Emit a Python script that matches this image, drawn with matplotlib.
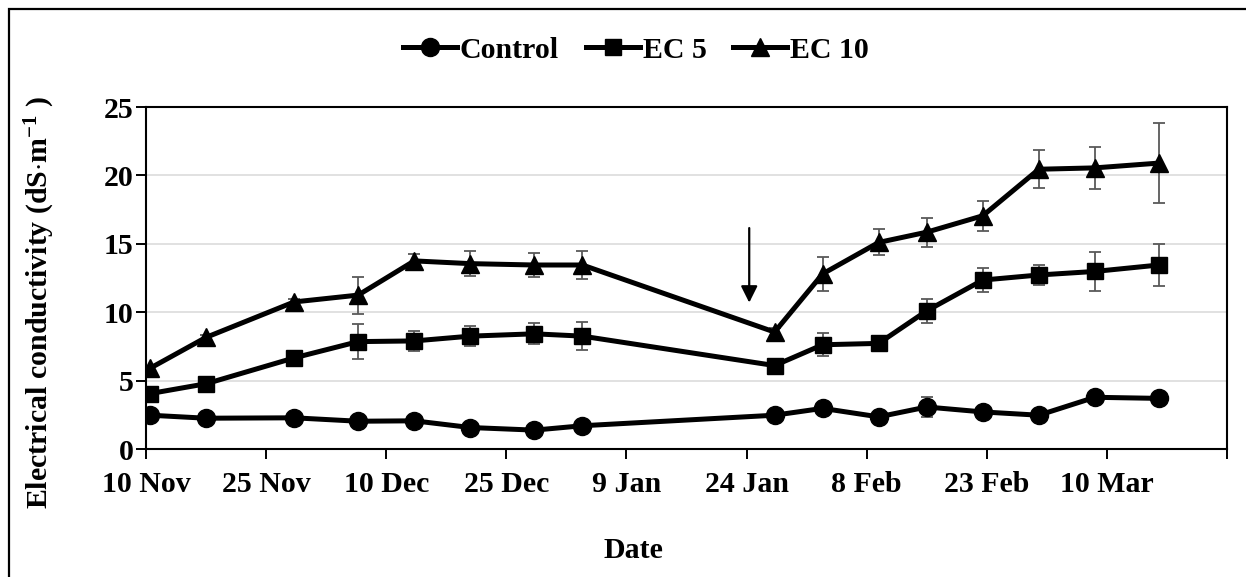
import numpy as np
import pandas as pd
import matplotlib
matplotlib.use("Agg")
import matplotlib.pyplot as plt
from matplotlib.patches import Rectangle

# ---------------------------------------------------------------
# Data
# ---------------------------------------------------------------
sample_dates = ["2018-11-10", "2018-11-17", "2018-11-28", "2018-12-06",
                "2018-12-13", "2018-12-20", "2018-12-28", "2019-01-03",
                "2019-01-27", "2019-02-02", "2019-02-09", "2019-02-15",
                "2019-02-22", "2019-03-01", "2019-03-08", "2019-03-16"]

control = [2.47, 2.25, 2.28, 2.03, 2.06, 1.57, 1.38, 1.70,
           2.47, 2.97, 2.35, 3.07, 2.71, 2.47, 3.78, 3.70]
control_err = [0.15, 0.15, 0.15, 0.2, 0.15, 0.15, 0.15, 0.15,
               0.15, 0.2, 0.2, 0.7, 0.2, 0.2, 0.2, 0.2]

ec5 = [4.05, 4.77, 6.66, 7.85, 7.90, 8.25, 8.42, 8.25,
       6.10, 7.62, 7.72, 10.10, 12.35, 12.72, 12.98, 13.45]
ec5_err = [0.2, 0.2, 0.2, 1.26, 0.73, 0.75, 0.78, 1.0,
           0.25, 0.85, 0.2, 0.88, 0.9, 0.72, 1.45, 1.5]

ec10 = [5.90, 8.16, 10.75, 11.25, 13.75, 13.55, 13.45, 13.45,
        8.55, 12.80, 15.10, 15.85, 17.05, 20.45, 20.55, 20.90]
ec10_err = [0.2, 0.2, 0.2, 1.35, 0.5, 0.9, 0.85, 1.05,
            0.3, 1.25, 0.95, 1.07, 1.1, 1.4, 1.55, 2.9]

series_labels = ["Control", "EC 5", "EC 10"]
series_markers = ["o", "s", "^"]
marker_sizes = [13, 12, 13]

tick_start = "2018-11-10"
tick_count = 10
axis_end = "2019-03-25"
arrow_date = "2019-01-24 08:00"
arrow_from, arrow_to = 16.15, 10.7

# ---------------------------------------------------------------
# Style
# ---------------------------------------------------------------
plt.rcParams["font.family"] = ["Liberation Serif", "DejaVu Serif"]
plt.rcParams["font.weight"] = "bold"
plt.rcParams["mathtext.fontset"] = "custom"
plt.rcParams["mathtext.rm"] = "Liberation Serif:bold"
plt.rcParams["mathtext.bf"] = "Liberation Serif:bold"
plt.rcParams["mathtext.it"] = "Liberation Serif:bold"
FS = 21.5

W, H = 1246, 577
fig = plt.figure(figsize=(W / 100, H / 100), dpi=100)
ax = fig.add_axes([146 / W, 1 - 449 / H, (1227 - 146) / W, (449 - 107) / H])

x = pd.to_datetime(sample_dates) + pd.Timedelta(hours=12)

for vals, errs, mk, ms, lab in zip([control, ec5, ec10],
                                   [control_err, ec5_err, ec10_err],
                                   series_markers, marker_sizes, series_labels):
    ax.errorbar(x, vals, yerr=errs, fmt="none", ecolor="#595959",
                elinewidth=1.3, capsize=4, capthick=1.3, zorder=2)
    ax.plot(x, vals, color="black", linewidth=3.6, marker=mk,
            markersize=ms, label=lab, zorder=3)

# axes
ax.set_ylim(0, 25)
ax.set_yticks(np.arange(0, 26, 5))
ax.set_xlim(pd.Timestamp(tick_start), pd.Timestamp(axis_end))
ticks = pd.date_range(tick_start, periods=tick_count, freq="15D")
ax.set_xticks(ticks)
labels = [f"{d.day} {d.strftime('%b')}" for d in ticks]
labels[-1] = ""
ax.set_xticklabels(labels)

ax.yaxis.grid(True, color="#d9d9d9", linewidth=1.1)
ax.set_axisbelow(True)
for s in ax.spines.values():
    s.set_linewidth(1.5)
    s.set_color("black")
ax.tick_params(axis="both", direction="out", length=7, width=1.4,
               labelsize=FS, colors="black")
ax.tick_params(axis="y", pad=2)
ax.tick_params(axis="x", pad=9)

# arrow marking the treatment change
ax.annotate("", xy=(pd.Timestamp(arrow_date), arrow_to),
            xytext=(pd.Timestamp(arrow_date), arrow_from),
            arrowprops=dict(arrowstyle="-|>", color="black", lw=1.6,
                            mutation_scale=25, shrinkA=0, shrinkB=0))

# labels
fig.text(633 / W, 1 - 550 / H, "Date", fontsize=FS, fontweight="bold",
         ha="center", va="center")
fig.text(40 / W, 1 - 302 / H,
         r"Electrical conductivity (dS$\cdot$m$^{-1}$ )",
         fontsize=FS, fontweight="bold", rotation=90,
         ha="center", va="center")

fig.legend(loc="center", bbox_to_anchor=(636 / W, 1 - 50 / H), ncol=3,
           frameon=False, fontsize=FS, handlelength=1.8, handletextpad=0.1,
           columnspacing=0.9, markerscale=1.0)

# outer chart frame (cropped on right and bottom)
fig.add_artist(Rectangle((9 / W, -0.2), 1.2, 1 - 9 / H + 0.2,
                         transform=fig.transFigure, fill=False,
                         edgecolor="black", linewidth=1.6))

fig.savefig("out.png", dpi=100)
